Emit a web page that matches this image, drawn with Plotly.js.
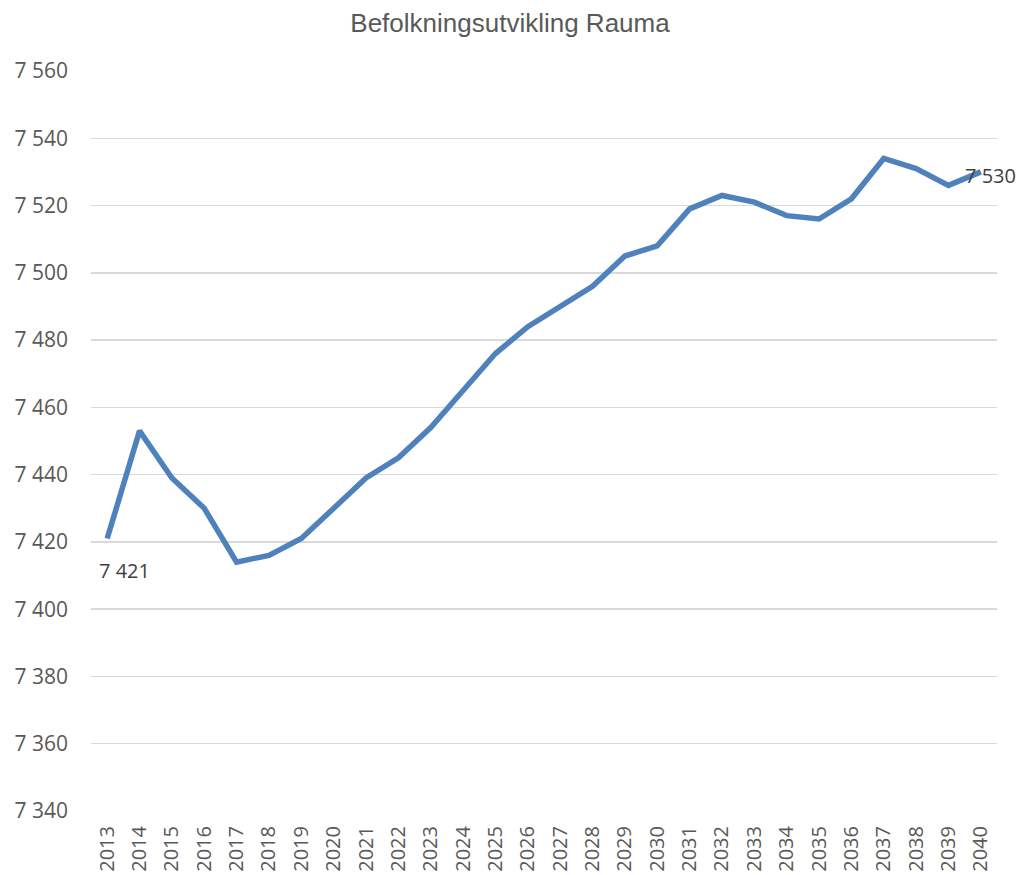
<!DOCTYPE html>
<html>
<head>
<meta charset="utf-8">
<script src="https://cdn.plot.ly/plotly-3.0.1.min.js"></script>
<style>html,body{margin:0;padding:0;background:#fff;}#chart{width:1020px;height:875px;}</style>
</head>
<body>
<div id="chart"></div>
<script>
const years = ["2013","2014","2015","2016","2017","2018","2019","2020","2021","2022","2023","2024","2025","2026","2027","2028","2029","2030","2031","2032","2033","2034","2035","2036","2037","2038","2039","2040"];
const population = [7421,7453,7439,7430,7414,7416,7421,7430,7439,7445,7454,7465,7476,7484,7490,7496,7505,7508,7519,7523,7521,7517,7516,7522,7534,7531,7526,7530];
const titleText = "Befolkningsutvikling Rauma";

const fmt = v => { const s = String(v); return s.length > 3 ? s.slice(0, s.length - 3) + " " + s.slice(-3) : s; };
const last = years.length - 1;

const trace = {
  x: years, y: population, type: "scatter", mode: "lines",
  line: {color: "#4f81bd", width: 5.5}, hoverinfo: "x+y"
};

const labelFont = {family: "Open Sans, sans-serif", size: 20, color: "#404040"};

const layout = {
  width: 1020, height: 875,
  margin: {l: 91, r: 23, t: 71, b: 64},
  paper_bgcolor: "#fff", plot_bgcolor: "#fff",
  separators: ", ",
  showlegend: false,
  title: {text: titleText, x: 0.5, xanchor: "center", y: 0.974, yanchor: "middle",
          font: {family: "Liberation Sans, Arial, sans-serif", size: 26, color: "#595959"}},
  xaxis: {type: "category", range: [-0.5, years.length - 0.5], tickangle: -90,
          showgrid: false, showline: false, zeroline: false, ticks: "",
          ticklabelstandoff: 10,
          tickfont: {family: "Open Sans, sans-serif", size: 20, color: "#595959"}},
  yaxis: {range: [7340, 7560], dtick: 20, tick0: 7340, tickformat: ",d",
          showgrid: true, gridcolor: "#d9d9d9", gridwidth: 1.5,
          showline: false, zeroline: false, ticks: "",
          ticklabelstandoff: 22,
          tickfont: {family: "Open Sans, sans-serif", size: 21, color: "#595959"}},
  annotations: [
    {xref: "x", yref: "y", x: 0, y: population[0], text: fmt(population[0]), showarrow: false,
     xanchor: "left", yanchor: "middle", xshift: -10, yshift: -32, font: labelFont},
    {xref: "x", yref: "y", x: last, y: population[last], text: fmt(population[last]), showarrow: false,
     xanchor: "left", yanchor: "middle", xshift: -18, yshift: -4, font: labelFont}
  ]
};

Plotly.newPlot("chart", [trace], layout, {staticPlot: true, displayModeBar: false});
</script>
</body>
</html>
